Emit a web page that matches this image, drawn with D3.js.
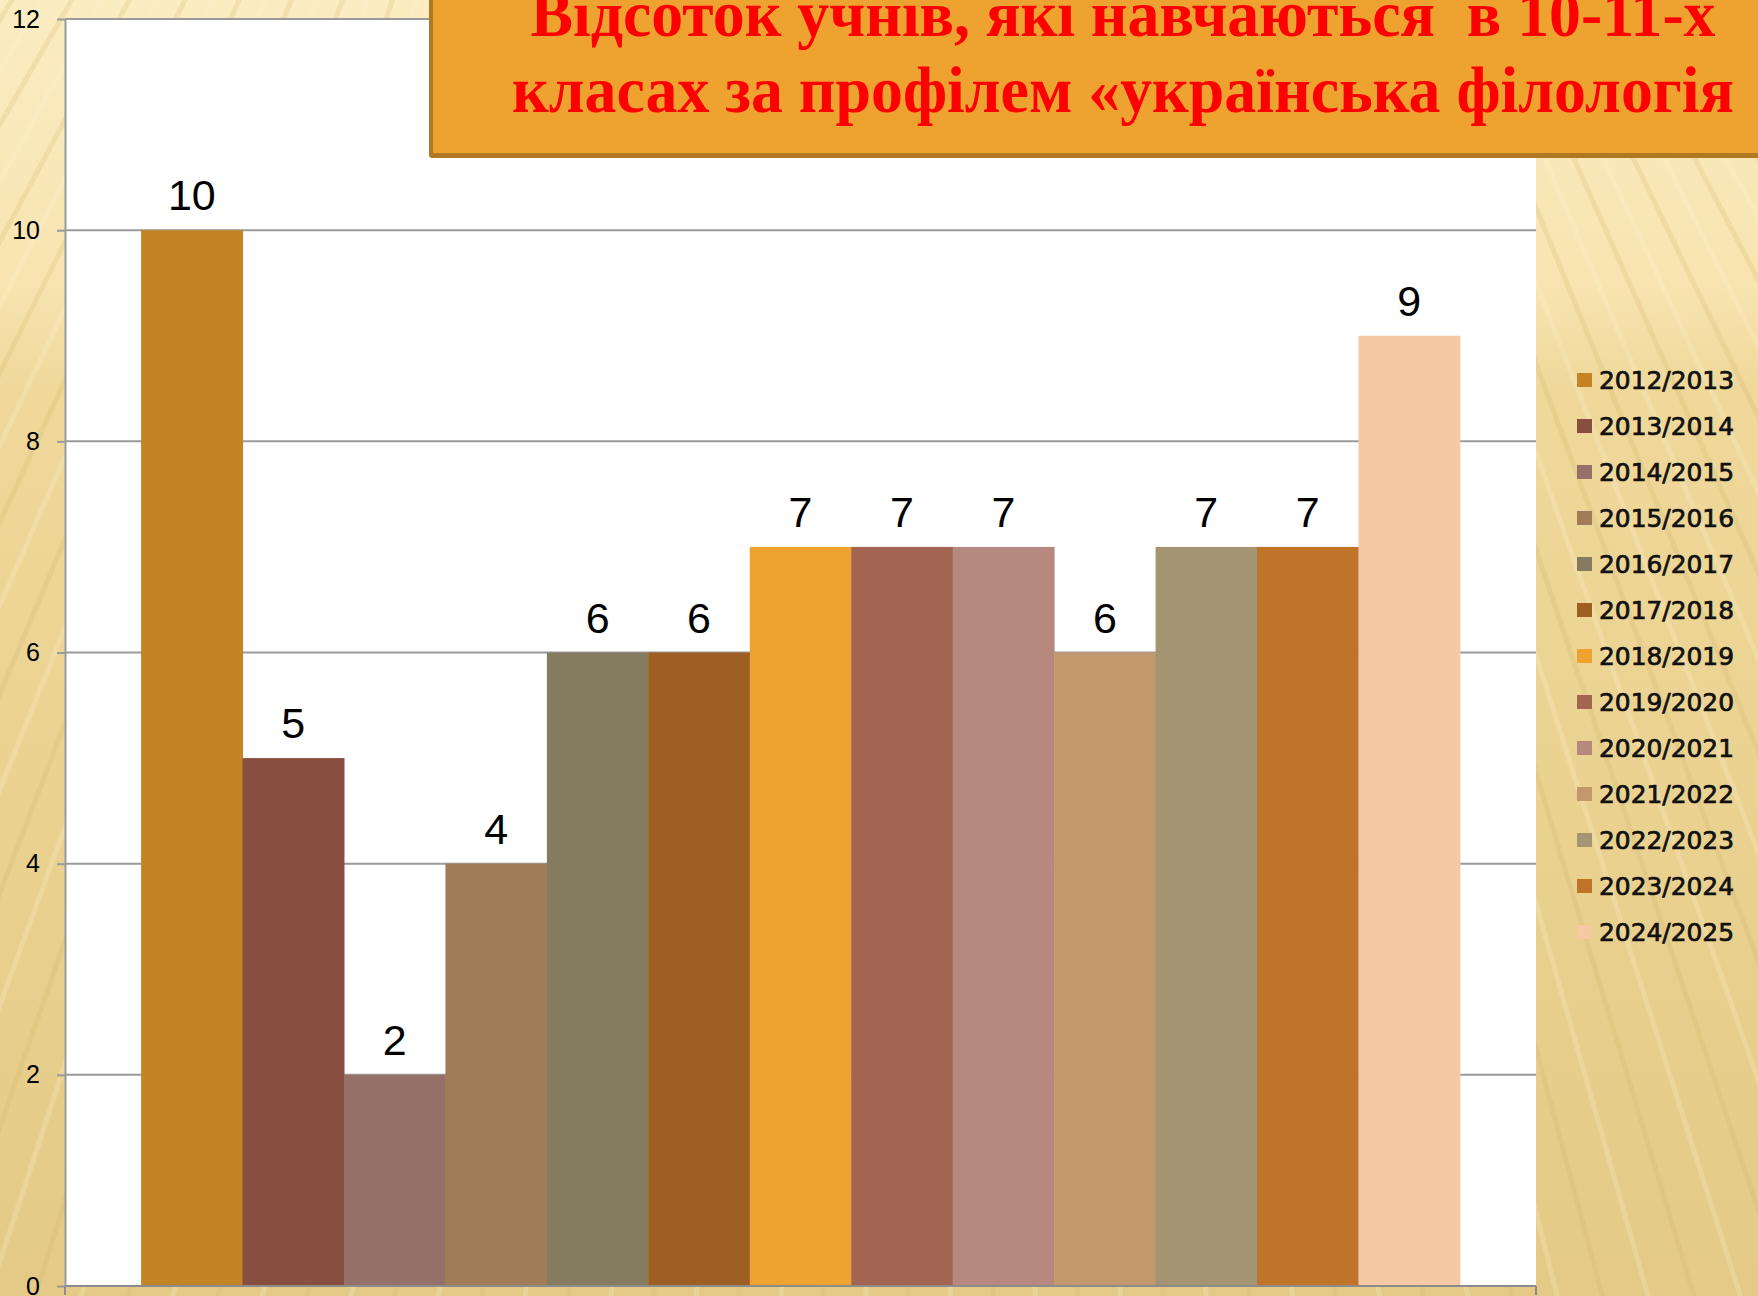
<!DOCTYPE html>
<html>
<head>
<meta charset="utf-8">
<script src="https://cdn.jsdelivr.net/npm/d3@7"></script>
<style>
  html, body { margin: 0; padding: 0; overflow: hidden; }
  svg { display: block; }
</style>
</head>
<body>
<svg id="chart" width="1758" height="1296"></svg>
<script>
// ── DATA ──────────────────────────────────────────────────────────
const seasons = ['2012/2013','2013/2014','2014/2015','2015/2016','2016/2017','2017/2018',
                 '2018/2019','2019/2020','2020/2021','2021/2022','2022/2023','2023/2024','2024/2025'];
const values  = [10, 5, 2, 4, 6, 6, 7, 7, 7, 6, 7, 7, 9];
const colors  = ['#C48425','#884F40','#947068','#A07C58','#857B5F','#9E5F23',
                 '#EEA230','#A36452','#B5897D','#C4986D','#A39572','#C07429','#F4C9A4'];
const yTicks  = [0, 2, 4, 6, 8, 10, 12];
const titleLines = ['Відсоток учнів, які навчаються  в 10-11-х',
                    'класах за профілем «українська філологія'];

// ── LAYOUT ────────────────────────────────────────────────────────
const W = 1758, H = 1296;
const plot = { left: 65, right: 1536, top: 19, bottom: 1286 };

const svg = d3.select('#chart');
const defs = svg.append('defs');

// background: cream to tan, with faint rays
const bg = defs.append('linearGradient')
  .attr('id','bgGrad').attr('x1','0').attr('y1','0').attr('x2','0').attr('y2','1');
bg.append('stop').attr('offset','0%').attr('stop-color','#FBECC2');
bg.append('stop').attr('offset','22%').attr('stop-color','#F7E4B0');
bg.append('stop').attr('offset','30%').attr('stop-color','#EFD89A');
bg.append('stop').attr('offset','100%').attr('stop-color','#E4CA86');

svg.append('rect').attr('width', W).attr('height', H).attr('fill','url(#bgGrad)');

const rays = svg.append('g').attr('opacity', 0.22);
d3.range(-60, 61, 0.9).forEach((a, i) => {
  const rad = (90 + a) * Math.PI / 180;
  const cx = 880, cy = -1400, len = 3500;
  rays.append('line')
    .attr('x1', cx).attr('y1', cy)
    .attr('x2', cx + Math.cos(rad) * len).attr('y2', cy + Math.sin(rad) * len)
    .attr('stroke', i % 2 ? '#fff6d6' : '#d2b468')
    .attr('stroke-width', 5);
});

// ── SCALES ────────────────────────────────────────────────────────
const x = d3.scaleBand()
  .domain(seasons)
  .range([plot.left, plot.right])
  .paddingInner(0)
  .paddingOuter(0.75);

const y = d3.scaleLinear()
  .domain([0, 12])
  .range([plot.bottom, plot.top]);

// plot area
svg.append('rect')
  .attr('x', plot.left).attr('y', plot.top)
  .attr('width', plot.right - plot.left).attr('height', plot.bottom - plot.top)
  .attr('fill','#ffffff');

// gridlines
svg.append('g')
  .selectAll('line')
  .data(yTicks.filter(t => t > 0))
  .enter().append('line')
    .attr('x1', plot.left).attr('x2', plot.right)
    .attr('y1', d => y(d)).attr('y2', d => y(d))
    .attr('stroke','#9a9a9a').attr('stroke-width', 2);

// y axis
const yAxis = svg.append('g')
  .attr('transform', `translate(${plot.left},0)`)
  .call(d3.axisLeft(y).tickValues(yTicks).tickSize(8).tickPadding(17).tickSizeOuter(0));
yAxis.select('.domain').attr('stroke','#9a9a9a').attr('stroke-width', 2);
yAxis.selectAll('.tick line').attr('stroke','#9a9a9a').attr('stroke-width', 2);
yAxis.selectAll('text')
  .attr('font-family',"'Liberation Sans', Arial, sans-serif")
  .attr('font-size', 25)
  .attr('fill','#000');

// bars
svg.append('g')
  .selectAll('rect')
  .data(seasons)
  .enter().append('rect')
    .attr('x', d => x(d))
    .attr('y', (d, i) => y(values[i]))
    .attr('width', x.bandwidth() + 0.5)
    .attr('height', (d, i) => y(0) - y(values[i]))
    .attr('fill', (d, i) => colors[i]);

// x axis line + outer ticks
svg.append('line')
  .attr('x1', plot.left).attr('x2', plot.right)
  .attr('y1', plot.bottom).attr('y2', plot.bottom)
  .attr('stroke','#8c8c8c').attr('stroke-width', 2);
[plot.left, plot.right].forEach(px => {
  svg.append('line')
    .attr('x1', px).attr('x2', px)
    .attr('y1', plot.bottom).attr('y2', plot.bottom + 9)
    .attr('stroke','#8c8c8c').attr('stroke-width', 2);
});

// value labels
svg.append('g')
  .selectAll('text')
  .data(seasons)
  .enter().append('text')
    .attr('x', d => x(d) + x.bandwidth() / 2)
    .attr('y', (d, i) => y(values[i]) - 20)
    .attr('text-anchor','middle')
    .attr('font-family',"'Liberation Sans', Arial, sans-serif")
    .attr('font-size', 43)
    .attr('fill','#000')
    .text((d, i) => values[i]);

// ── LEGEND ────────────────────────────────────────────────────────
const legend = svg.append('g').attr('transform','translate(1577,380)');
const rowH = 46;
seasons.forEach((s, i) => {
  const g = legend.append('g').attr('transform', `translate(0,${i * rowH})`);
  g.append('rect')
    .attr('x', 0).attr('y', -7)
    .attr('width', 15).attr('height', 14)
    .attr('fill', colors[i]);
  g.append('text')
    .attr('x', 22).attr('y', 9)
    .attr('font-family',"'DejaVu Sans', Verdana, sans-serif")
    .attr('font-size', 24.5)
    .attr('fill','#111')
    .attr('stroke','#111').attr('stroke-width', 0.7)
    .attr('textLength', 135)
    .attr('lengthAdjust','spacingAndGlyphs')
    .text(s);
});

// ── TITLE BOX ─────────────────────────────────────────────────────
svg.append('rect')
  .attr('x', 429).attr('y', -20)
  .attr('width', W - 429 + 20).attr('height', 178)
  .attr('rx', 3)
  .attr('fill','#B07822');
svg.append('rect')
  .attr('x', 433).attr('y', -20)
  .attr('width', W - 433 + 20).attr('height', 173)
  .attr('fill','#EEA22F');

const titleW = [1185, 1222];
const titleY = [36, 112];
titleLines.forEach((t, i) => {
  svg.append('text')
    .attr('x', 1123).attr('y', titleY[i])
    .attr('text-anchor','middle')
    .attr('font-family',"'Liberation Serif', 'Times New Roman', serif")
    .attr('font-weight','bold')
    .attr('font-size', 66)
    .attr('fill','#FF0000')
    .attr('textLength', titleW[i])
    .attr('lengthAdjust','spacingAndGlyphs')
    .style('white-space','pre')
    .text(t);
});
</script>
</body>
</html>
